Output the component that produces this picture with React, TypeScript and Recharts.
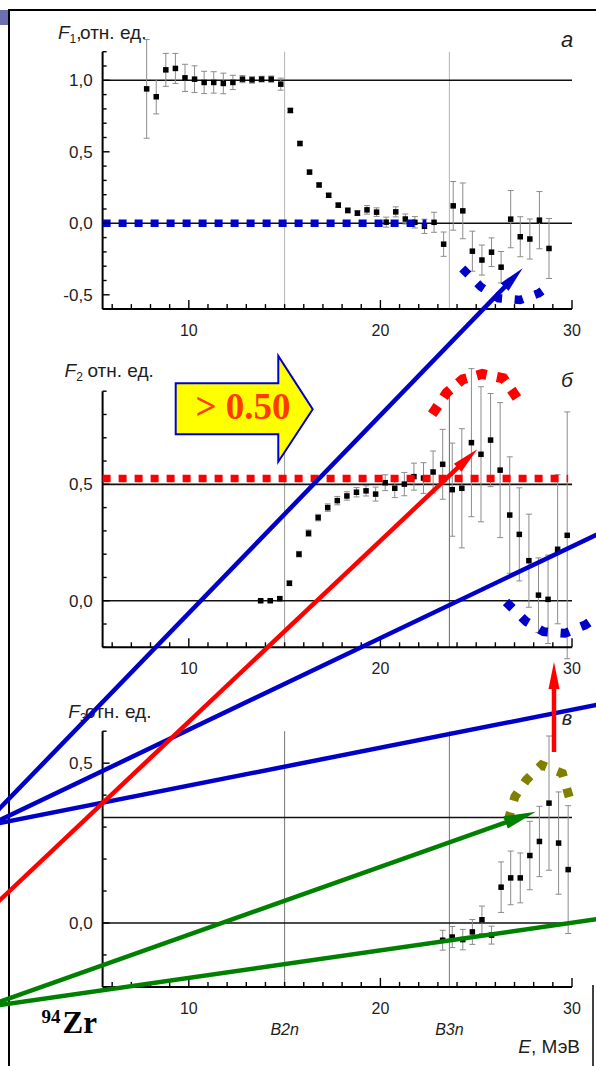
import {ScatterChart, Scatter, XAxis, YAxis, ErrorBar, ReferenceLine} from "recharts"

const SANS = "'Liberation Sans', Arial, Helvetica, sans-serif"
const SERIF = "'Liberation Serif', 'Times New Roman', serif"
const INK = "#1e1e1e"
const BLUE = "#0000c8"
const RED = "#ff0000"
const GREEN = "#008000"
const OLIVE = "#7f7f00"

const PAGE_W = 596
const PAGE_H = 1066
const PLOT_LEFT = 102.6
const PLOT_RIGHT = 572
const X_AXIS_H = 25
const Y_AXIS_W = 50

// energy axis, MeV
const xTicks = [6, 7, 8, 9, 10, 11, 12, 13, 14, 15, 16, 17, 18, 19, 20, 21, 22, 23, 24, 25, 26, 27, 28, 29, 30]
const xTickLabels = [10, 20, 30]
const thresholdE = [15.0, 23.6]
const thresholdNames = ["B2n", "B3n"]

// panel а : F1
const f1Energy = [7.8, 8.3, 8.8, 9.3, 9.8, 10.3, 10.8, 11.3, 11.8, 12.3, 12.8, 13.3, 13.8, 14.3, 14.8, 15.3, 15.8, 16.3, 16.8, 17.3, 17.8, 18.3, 18.8, 19.3, 19.8, 20.3, 20.8, 21.3, 21.8, 22.3, 22.8, 23.3, 23.8, 24.3, 24.8, 25.3, 25.8, 26.3, 26.8, 27.3, 27.8, 28.3, 28.8]
const f1Value = [0.94, 0.885, 1.073, 1.083, 1.017, 1.008, 0.985, 0.985, 0.978, 0.985, 1.008, 1.003, 1.008, 1.008, 0.973, 0.789, 0.558, 0.358, 0.268, 0.196, 0.127, 0.09, 0.071, 0.094, 0.078, 0.008, 0.08, 0.03, 0.007, -0.021, 0.007, -0.146, 0.122, 0.087, -0.195, -0.257, -0.202, -0.307, 0.029, -0.094, -0.11, 0.022, -0.176]
const f1Error = [0.345, 0.12, 0.115, 0.105, 0.095, 0.093, 0.078, 0.075, 0.072, 0.05, 0.025, 0.023, 0.02, 0.022, 0.042, 0.015, 0.015, 0.013, 0.013, 0.013, 0.015, 0.017, 0.017, 0.03, 0.03, 0.035, 0.035, 0.035, 0.04, 0.05, 0.07, 0.085, 0.17, 0.195, 0.14, 0.105, 0.1, 0.11, 0.2, 0.14, 0.14, 0.2, 0.21]
const f1Ticks = [-0.6, -0.5, -0.4, -0.3, -0.2, -0.1, 0, 0.1, 0.2, 0.3, 0.4, 0.5, 0.6, 0.7, 0.8, 0.9, 1.0, 1.1, 1.2]
const f1TickLabels = [-0.5, 0, 0.5, 1.0]
const f1Lines = [0, 1.0]

// panel б : F2
const f2Energy = [13.75, 14.25, 14.75, 15.25, 15.75, 16.25, 16.75, 17.25, 17.75, 18.25, 18.75, 19.25, 19.75, 20.25, 20.75, 21.25, 21.75, 22.25, 22.75, 23.25, 23.75, 24.25, 24.75, 25.25, 25.75, 26.25, 26.75, 27.25, 27.75, 28.25, 28.75, 29.25, 29.75]
const f2Value = [0, 0, 0.009, 0.075, 0.2, 0.29, 0.357, 0.4, 0.43, 0.45, 0.466, 0.472, 0.458, 0.507, 0.483, 0.501, 0.533, 0.527, 0.553, 0.586, 0.477, 0.483, 0.679, 0.629, 0.69, 0.561, 0.368, 0.285, 0.172, 0.024, 0.006, 0.221, 0.281]
const f2Error = [0.005, 0.005, 0.006, 0.01, 0.012, 0.014, 0.014, 0.016, 0.018, 0.018, 0.02, 0.022, 0.03, 0.034, 0.04, 0.05, 0.058, 0.066, 0.09, 0.15, 0.2, 0.256, 0.318, 0.29, 0.2, 0.29, 0.25, 0.2, 0.2, 0.16, 0.19, 0.32, 0.53]
const f2Ticks = [-0.2, -0.1, 0, 0.1, 0.2, 0.3, 0.4, 0.5, 0.6, 0.7, 0.8, 0.9]
const f2TickLabels = [0, 0.5]
const f2Lines = [0, 0.5]

// panel в : F3
const f3Energy = [23.25, 23.75, 24.3, 24.8, 25.3, 25.8, 26.3, 26.8, 27.3, 27.8, 28.3, 28.8, 29.3, 29.8]
const f3Value = [-0.054, -0.044, -0.052, -0.028, 0.01, -0.038, 0.112, 0.141, 0.141, 0.211, 0.255, 0.375, 0.25, 0.167]
const f3Error = [0.031, 0.033, 0.032, 0.039, 0.043, 0.028, 0.079, 0.084, 0.078, 0.107, 0.11, 0.21, 0.16, 0.2]
const f3Ticks = [-0.2, -0.1, 0, 0.1, 0.2, 0.3, 0.4, 0.5, 0.6]
const f3TickLabels = [0, 0.5]
const f3Lines = [0, 0.33]

// annotation overlay, in page pixels
type Pt = {x: number, y: number}
type Seg = {x1: number, y1: number, x2: number, y2: number}

const blueArrows: Seg[] = [{x1: 0, y1: 808, x2: 522.7, y2: 268.3}]
const blueLines: Seg[] = [{x1: 0, y1: 820, x2: 596, y2: 535}, {x1: 0, y1: 823, x2: 596, y2: 705}]
const redArrows: Seg[] = [{x1: 0, y1: 900, x2: 477.3, y2: 449.3}, {x1: 554, y1: 752, x2: 554, y2: 662}]
const greenArrows: Seg[] = [{x1: 0, y1: 1001.7, x2: 535.8, y2: 811.7}]
const greenLines: Seg[] = [{x1: 0, y1: 1005, x2: 596, y2: 919.3}]

const blueArcA: Pt[] = [{x: 462.3, y: 268.5}, {x: 465.5, y: 271.7}, {x: 480.7, y: 286.7}, {x: 498.6, y: 298.3}, {x: 519.8, y: 300}, {x: 538.8, y: 293.3}, {x: 542, y: 291}]
const redArcB: Pt[] = [{x: 432.2, y: 414.2}, {x: 435, y: 410}, {x: 446.7, y: 392.7}, {x: 462.7, y: 379.3}, {x: 482.3, y: 374}, {x: 503.3, y: 378.3}, {x: 514.3, y: 394}, {x: 517, y: 398}]
const blueArcB: Pt[] = [{x: 506, y: 601.9}, {x: 509.2, y: 605}, {x: 526.3, y: 621.7}, {x: 543.4, y: 631.7}, {x: 565, y: 633.3}, {x: 585.2, y: 625}, {x: 600, y: 615}]
const oliveArcC: Pt[] = [{x: 508, y: 821}, {x: 509.2, y: 816.7}, {x: 514.9, y: 796.7}, {x: 526.3, y: 780}, {x: 541.5, y: 765}, {x: 562.4, y: 773.3}, {x: 568.1, y: 793.3}, {x: 569.5, y: 798}]
const calloutTip: Pt = {x: 312.7, y: 409.3}
const calloutText = "> 0.50"

const fmtComma = (v: number) => v.toFixed(1).replace(".", ",").replace("-0,0", "0,0")

const xTick = (p: any) => {
    const v = p.payload.value as number
    const major = xTickLabels.includes(v)
    return (
        <g>
            <line x1={p.x} y1={p.y} x2={p.x} y2={p.y - (major ? 9 : 5)} stroke="#000" strokeWidth={1.4} />
            {major && (
                <text x={p.x} y={p.y + 27} textAnchor="middle" fontSize={16} fontFamily={SANS} fill={INK}>{v}</text>
            )}
        </g>
    )
}

const yTick = (labels: number[]) => (p: any) => {
    const v = p.payload.value as number
    const major = labels.some(l => Math.abs(l - v) < 1e-6)
    return (
        <g>
            <line x1={p.x} y1={p.y} x2={p.x + (major ? 7 : 4)} y2={p.y} stroke="#000" strokeWidth={1.4} />
            {major && (
                <text x={p.x - 10} y={p.y} dy="0.36em" textAnchor="end" fontSize={17} fontFamily={SANS} fill={INK}>{fmtComma(v)}</text>
            )}
        </g>
    )
}

const square = (p: any) => <rect x={p.cx - 2.75} y={p.cy - 2.75} width={5.5} height={5.5} fill="#000" />

type PanelProps = {
    top: number, height: number, plotTop: number, plotBottom: number,
    energy: number[], value: number[], error: number[],
    yDomain: [number, number], yTicks: number[], yLabels: number[], hLines: number[],
    vColors: string[],
    sub: string, sep: string, titleX: number, restX: number, titleY: number,
    letter: string, letterSize: number, letterY: number,
    dotted?: {y: number, x1: number, x2: number, color: string},
    bottomLabels?: boolean,
}

function Panel(props: PanelProps) {
    const {top, height, plotTop, plotBottom, energy, value, error} = props
    const data = energy.map((x, i) => ({x, y: value[i], err: error[i]}))
    const mTop = plotTop - top
    const bottomRel = plotBottom - top
    const mBottom = height - bottomRel - X_AXIS_H

    const title = () => (
        <g fontFamily={SANS} fill={INK}>
            <text x={props.titleX} y={props.titleY} fontSize={19}>
                <tspan fontStyle="italic">F</tspan>
                <tspan fontSize={12} dy={4}>{props.sub}</tspan>
                <tspan dy={-4}>{props.sep}</tspan>
            </text>
            <text x={props.restX} y={props.titleY} fontSize={19}>отн. ед.</text>
            <text x={567} y={props.letterY} fontSize={props.letterSize} fontStyle="italic" textAnchor="middle">{props.letter}</text>
        </g>
    )

    const energyLabel = () => (
        <text x={580} y={bottomRel + 66} textAnchor="end" fontSize={19} fontFamily={SANS} fill={INK}>
            <tspan fontStyle="italic">E</tspan>, МэВ
        </text>
    )

    return (
        <div style={{position: "absolute", left: 0, top, width: PAGE_W, height}}>
            <ScatterChart
                width={PAGE_W}
                height={height}
                margin={{top: mTop, right: PAGE_W - PLOT_RIGHT, bottom: mBottom, left: PLOT_LEFT - Y_AXIS_W}}
            >
                <XAxis
                    type="number"
                    dataKey="x"
                    domain={[5.5, 30]}
                    ticks={xTicks}
                    interval={0}
                    tickSize={0}
                    tickMargin={0}
                    tickLine={false}
                    tick={xTick}
                    height={X_AXIS_H}
                    axisLine={{stroke: "#000", strokeWidth: 2}}
                    allowDataOverflow
                    label={props.bottomLabels ? {content: energyLabel} : undefined}
                />
                <YAxis
                    type="number"
                    dataKey="y"
                    domain={props.yDomain}
                    ticks={props.yTicks}
                    interval={0}
                    tickSize={0}
                    tickMargin={0}
                    tickLine={false}
                    tick={yTick(props.yLabels)}
                    width={Y_AXIS_W}
                    axisLine={{stroke: "#000", strokeWidth: 2}}
                    allowDataOverflow
                    label={{content: title}}
                />
                {thresholdE.map((e, i) => (
                    <ReferenceLine
                        key={"v" + i}
                        x={e}
                        stroke={props.vColors[i]}
                        strokeWidth={1}
                        label={props.bottomLabels ? {
                            content: (lp: any) => (
                                <text x={lp.viewBox.x} y={bottomRel + 48} textAnchor="middle" fontSize={16}
                                      fontStyle="italic" fontFamily={SANS} fill={INK}>{thresholdNames[i]}</text>
                            )
                        } : undefined}
                    />
                ))}
                {props.hLines.map((v, i) => (
                    <ReferenceLine key={"h" + i} y={v} stroke="#111" strokeWidth={1.6} />
                ))}
                <Scatter data={data} shape={square} isAnimationActive={false}>
                    <ErrorBar dataKey="err" direction="y" width={3} stroke="#8c8c8c" strokeWidth={1} isAnimationActive={false} />
                </Scatter>
                {props.dotted && (
                    <ReferenceLine
                        segment={[{x: props.dotted.x1, y: props.dotted.y}, {x: props.dotted.x2, y: props.dotted.y}]}
                        stroke={props.dotted.color}
                        strokeWidth={7.5}
                        strokeDasharray="8 8"
                        zIndex={700}
                    />
                )}
            </ScatterChart>
        </div>
    )
}

function shaft(s: Seg, headLen: number | null): Pt[] {
    const dx = s.x2 - s.x1
    const dy = s.y2 - s.y1
    const len = Math.hypot(dx, dy)
    const ux = dx / len
    const uy = dy / len
    const atEdge = (x: number) => x <= 0 || x >= PAGE_W
    const p1 = atEdge(s.x1) ? {x: s.x1 - ux * 20, y: s.y1 - uy * 20} : {x: s.x1, y: s.y1}
    let p2 = {x: s.x2, y: s.y2}
    if (headLen) p2 = {x: s.x2 - ux * headLen * 0.75, y: s.y2 - uy * headLen * 0.75}
    else if (atEdge(s.x2)) p2 = {x: s.x2 + ux * 20, y: s.y2 + uy * 20}
    return [p1, p2]
}

function rays(segs: Seg[], color: string, head: {len: number, wid: number} | null, name: string) {
    return segs.flatMap((s, i) => {
        const out = [
            <ReferenceLine key={name + "l" + i} segment={shaft(s, head ? head.len : null)} stroke={color}
                           strokeWidth={4.5} ifOverflow="visible" zIndex={650} />
        ]
        if (head) {
            const ang = Math.atan2(s.y2 - s.y1, s.x2 - s.x1) * 180 / Math.PI
            out.push(
                <Scatter
                    key={name + "h" + i}
                    data={[{x: s.x2, y: s.y2}]}
                    isAnimationActive={false}
                    zIndex={660}
                    shape={(p: any) => (
                        <polygon
                            points={`0,0 ${-head.len},${-head.wid / 2} ${-head.len},${head.wid / 2}`}
                            fill={color}
                            transform={`translate(${p.cx},${p.cy}) rotate(${ang})`}
                        />
                    )}
                />
            )
        }
        return out
    })
}

function arc(pts: Pt[], color: string, width: number, dash: string, name: string) {
    return (
        <Scatter
            key={name}
            data={pts}
            isAnimationActive={false}
            shape={() => <g />}
            line={{stroke: color, strokeWidth: width, strokeDasharray: dash, fill: "none"}}
        />
    )
}

function Overlay() {
    return (
        <ScatterChart width={PAGE_W} height={PAGE_H} margin={{top: 0, right: 0, bottom: 0, left: 0}}
                      style={{position: "absolute", left: 0, top: 0}}>
            <XAxis type="number" dataKey="x" domain={[0, PAGE_W]} hide allowDataOverflow />
            <YAxis type="number" dataKey="y" domain={[0, PAGE_H]} reversed hide allowDataOverflow />
            {arc(blueArcA, BLUE, 8.5, "8.5 12.6", "arcA")}
            {arc(redArcB, RED, 10, "10 10.5", "arcB")}
            {arc(blueArcB, BLUE, 9, "9 12.8", "arcB2")}
            {arc(oliveArcC, OLIVE, 9, "9 12", "arcC")}
            {rays(blueLines, BLUE, null, "bl")}
            {rays(greenLines, GREEN, null, "gl")}
            {rays(blueArrows, BLUE, {len: 26, wid: 11}, "ba")}
            {rays(redArrows, RED, {len: 27, wid: 11}, "ra")}
            {rays(greenArrows, GREEN, {len: 32, wid: 13}, "ga")}
            <Scatter
                data={[calloutTip]}
                isAnimationActive={false}
                shape={(p: any) => (
                    <g transform={`translate(${p.cx},${p.cy})`}>
                        <polygon
                            points="-137,-26 -34.4,-26 -34.4,-53.3 0,0 -34.4,52.4 -34.4,25 -137,25"
                            fill="#ffff00"
                            stroke="#0000cc"
                            strokeWidth={2}
                        />
                        <text x={-69.7} y={9.7} textAnchor="middle" fontSize={37} fontWeight="bold"
                              fontFamily={SERIF} fill="#ff3a00">{calloutText}</text>
                    </g>
                )}
            />
        </ScatterChart>
    )
}

export default function App() {
    return (
        <div style={{position: "absolute", left: 0, top: 0, width: PAGE_W, height: PAGE_H, background: "#fff", overflow: "hidden"}}>
            <svg width={PAGE_W} height={PAGE_H} style={{position: "absolute", left: 0, top: 0}}>
                <rect x={0} y={10} width={8} height={15} fill="#6d70b0" />
                <line x1={9} y1={9} x2={9} y2={PAGE_H} stroke="#000" strokeWidth={2} />
                <line x1={8} y1={10} x2={PAGE_W} y2={10} stroke="#000" strokeWidth={2} />
                <line x1={593} y1={985} x2={593} y2={PAGE_H} stroke="#000" strokeWidth={1.5} />
                <text x={41.5} y={1023} fontFamily={SERIF} fontWeight="bold" fontSize={19}>94</text>
                <text x={62.5} y={1033} fontFamily={SERIF} fontWeight="bold" fontSize={31}>Zr</text>
            </svg>
            <Panel
                top={0} height={340} plotTop={51.7} plotBottom={309.1}
                energy={f1Energy} value={f1Value} error={f1Error}
                yDomain={[-0.6, 1.2]} yTicks={f1Ticks} yLabels={f1TickLabels} hLines={f1Lines}
                vColors={["#b4b4b4", "#b4b4b4"]}
                sub="1" sep="," titleX={58} restX={80} titleY={39.3}
                letter="а" letterSize={22} letterY={47}
                dotted={{y: 0, x1: 5.5, x2: 22.4, color: BLUE}}
            />
            <Panel
                top={340} height={340} plotTop={391.2} plotBottom={647.3}
                energy={f2Energy} value={f2Value} error={f2Error}
                yDomain={[-0.2, 0.9]} yTicks={f2Ticks} yLabels={f2TickLabels} hLines={f2Lines}
                vColors={["#999", "#666"]}
                sub="2" sep="" titleX={64.6} restX={87.4} titleY={37}
                letter="б" letterSize={21} letterY={46.7}
                dotted={{y: 0.525, x1: 5.5, x2: 29.8, color: RED}}
            />
            <Panel
                top={680} height={386} plotTop={731.2} plotBottom={986.9}
                energy={f3Energy} value={f3Value} error={f3Error}
                yDomain={[-0.2, 0.6]} yTicks={f3Ticks} yLabels={f3TickLabels} hLines={f3Lines}
                vColors={["#777", "#777"]}
                sub="3" sep="" titleX={68.3} restX={85} titleY={38}
                letter="в" letterSize={20} letterY={45}
                bottomLabels
            />
            <Overlay />
        </div>
    )
}
